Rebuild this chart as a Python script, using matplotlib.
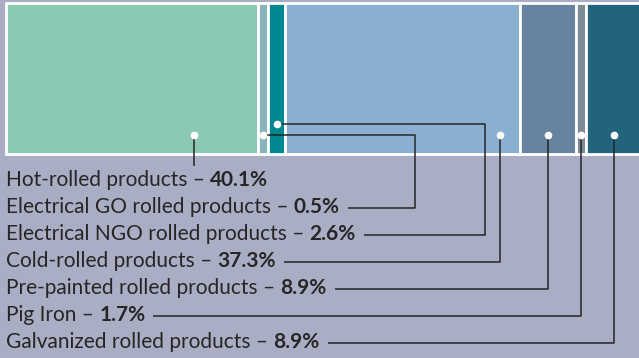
import matplotlib
matplotlib.use("Agg")
import matplotlib.pyplot as plt

# data
labels = ["Hot-rolled products", "Electrical GO rolled products",
          "Electrical NGO rolled products", "Cold-rolled products",
          "Pre-painted rolled products", "Pig Iron", "Galvanized rolled products"]
shares = [40.1, 0.5, 2.6, 37.3, 8.9, 1.7, 8.9]
colors = ["#8bc9b3", "#8ab4bc", "#008891", "#89b0d1", "#6684a0", "#7f8c96", "#22637e"]

# layout (pixels)
W, H = 639, 358
bg = "#a9aec4"
x0, scale = 5.6, 6.3          # px of left edge, px per percent
min_w = 1.6                    # smallest drawn width, percent
bar_top, bar_bot = 3.2, 154.2
dot_frac = [0.746, 0.5, 0.5, 0.915, 0.5, 0.5, 0.5]
dot_y = [135, 135, 124, 135, 135, 135, 135]
elbow_x = [None, 65.0, 76.1, None, None, None, None]   # percent units
base0, row_h = 186, 27
font = ["Lato", "DejaVu Sans"]
fs = 15
ink = "#262626"

fig = plt.figure(figsize=(W / 100, H / 100), dpi=100, facecolor=bg)
ax = fig.add_axes([0, 0, 1, 1])
ax.set_facecolor(bg)
ax.set_xlim(-x0 / scale, (W - x0) / scale)
ax.set_ylim(H, 0)
ax.axis("off")

widths = [max(s, min_w) for s in shares]
lefts = [sum(widths[:i]) for i in range(len(widths))]
ax.bar(lefts, bar_bot - bar_top, width=widths, bottom=bar_top, align="edge",
       color=colors, edgecolor="white", linewidth=2, zorder=2)

dx = [l + f * w for l, w, f in zip(lefts, widths, dot_frac)]

fig.canvas.draw()
r = fig.canvas.get_renderer()
inv = ax.transData.inverted()
px = 1 / scale  # one pixel in x data units

for i, lab in enumerate(labels):
    base = base0 + i * row_h
    t1 = ax.text(-x0 / scale + 6 * px, base, lab + " \u2013 ", fontsize=fs,
                 family=font, color=ink, va="baseline", ha="left")
    bb = t1.get_window_extent(r)
    xe = inv.transform((bb.x1, 0))[0]
    t2 = ax.text(xe, base, f"{shares[i]}%", fontsize=fs, family=font,
                 weight="bold", color=ink, va="baseline", ha="left")
    bb2 = t2.get_window_extent(r)
    tend = inv.transform((bb2.x1, 0))[0]

    xs, ys = [dx[i]], [dot_y[i]]
    vx = dx[i]
    if elbow_x[i] is not None:
        vx = elbow_x[i]
        xs.append(vx); ys.append(dot_y[i])
    ly = base - 5.5
    if tend + 8 * px < vx:
        xs += [vx, tend + 8 * px]; ys += [ly, ly]
    else:
        xs.append(vx); ys.append(base - 20)
    ax.plot(xs, ys, color=ink, lw=1.1, solid_capstyle="butt", zorder=3)

ax.plot(dx, dot_y, "o", color="white", ms=5.5, mec="none", zorder=4)

fig.savefig("out.png", dpi=100, facecolor=bg)
